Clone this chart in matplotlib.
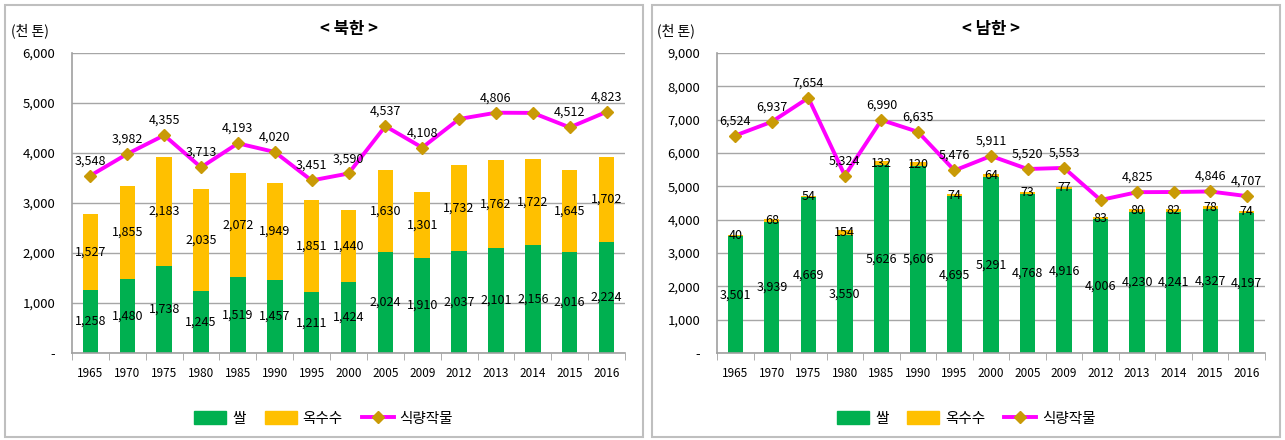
import numpy as np
import matplotlib.pyplot as plt
from matplotlib.patches import Rectangle, Patch
from matplotlib.lines import Line2D
from matplotlib.ticker import FuncFormatter

plt.rcParams['font.family'] = ['Noto Sans CJK KR', 'DejaVu Sans']

years = ["1965", "1970", "1975", "1980", "1985", "1990", "1995", "2000",
         "2005", "2009", "2012", "2013", "2014", "2015", "2016"]

# 북한
nk_rice = [1258, 1480, 1738, 1245, 1519, 1457, 1211, 1424, 2024, 1910, 2037, 2101, 2156, 2016, 2224]
nk_corn = [1527, 1855, 2183, 2035, 2072, 1949, 1851, 1440, 1630, 1301, 1732, 1762, 1722, 1645, 1702]
nk_total = [3548, 3982, 4355, 3713, 4193, 4020, 3451, 3590, 4537, 4108, 4680, 4806, 4802, 4512, 4823]
nk_total_show = [True] * 10 + [False, True, False, True, True]

# 남한
sk_rice = [3501, 3939, 4669, 3550, 5626, 5606, 4695, 5291, 4768, 4916, 4006, 4230, 4241, 4327, 4197]
sk_corn = [40, 68, 54, 154, 132, 120, 74, 64, 73, 77, 83, 80, 82, 78, 74]
sk_total = [6524, 6937, 7654, 5324, 6990, 6635, 5476, 5911, 5520, 5553, 4590, 4825, 4830, 4846, 4707]
sk_total_show = [True] * 10 + [False, True, False, True, True]

GREEN = '#00B050'
YELLOW = '#FFC000'
MAGENTA = '#FF00FF'
GOLD = '#C99A06'


def draw(ax, rice, corn, total, show, ymax, title):
    x = np.arange(len(years))
    rice = np.array(rice)
    corn = np.array(corn)
    ax.bar(x, rice, width=0.42, color=GREEN, zorder=2)
    ax.bar(x, corn, width=0.42, bottom=rice, color=YELLOW, zorder=2)
    ax.plot(x, total, color=MAGENTA, lw=2.8, marker='D', ms=6.5,
            mfc=GOLD, mec=GOLD, zorder=3)
    for i in x:
        ax.text(i, rice[i] / 2, f"{rice[i]:,}", ha='center', va='center',
                fontsize=9, zorder=4)
        ax.text(i, rice[i] + corn[i] / 2, f"{corn[i]:,}", ha='center',
                va='center', fontsize=9, zorder=4)
        if show[i]:
            ax.annotate(f"{total[i]:,}", (i, total[i]), xytext=(0, 6),
                        textcoords='offset points', ha='center', va='bottom',
                        fontsize=9, zorder=4)
    ax.set_xlim(-0.5, len(years) - 0.5)
    ax.set_ylim(0, ymax)
    ax.set_yticks(np.arange(0, ymax + 1, 1000))
    ax.yaxis.set_major_formatter(FuncFormatter(lambda v, p: "-" if v == 0 else f"{int(v):,}"))
    ax.set_xticks(x)
    ax.set_xticklabels(years)
    ax.set_xticks(np.arange(-0.5, len(years)), minor=True)
    ax.tick_params(axis='x', which='major', length=0, labelsize=8.5, pad=10)
    ax.tick_params(axis='x', which='minor', length=5, color='#A0A0A0')
    ax.tick_params(axis='y', length=0, labelsize=9.5, pad=12)
    ax.grid(axis='y', color='#A6A6A6', lw=1, zorder=0)
    for s in ['top', 'right']:
        ax.spines[s].set_visible(False)
    for s in ['left', 'bottom']:
        ax.spines[s].set_color('#A0A0A0')
        ax.spines[s].set_linewidth(1.2)
    ax.text(0.5, 1.05, title, transform=ax.transAxes, ha='center',
            va='bottom', fontsize=12, fontweight='bold')
    ax.text(-0.11, 1.05, "(천 톤)", transform=ax.transAxes, ha='left',
            va='bottom', fontsize=10)
    handles = [Patch(color=GREEN), Patch(color=YELLOW),
               Line2D([], [], color=MAGENTA, lw=2.8, marker='D', ms=6,
                      mfc=GOLD, mec=GOLD)]
    ax.legend(handles, ["쌀", "옥수수", "식량작물"], loc='upper center',
              bbox_to_anchor=(0.455, -0.15), ncol=3, frameon=False,
              fontsize=10.5, handlelength=2.2, handleheight=1.0,
              handletextpad=0.4, columnspacing=1.3)


fig = plt.figure(figsize=(12.85, 4.4), dpi=100)
fig.patches.append(Rectangle((5 / 1285, 3 / 440), 638 / 1285, 432 / 440,
                             transform=fig.transFigure, fill=False,
                             ec='#BFBFBF', lw=1.5))
fig.patches.append(Rectangle((652 / 1285, 3 / 440), 628 / 1285, 432 / 440,
                             transform=fig.transFigure, fill=False,
                             ec='#BFBFBF', lw=1.5))

ax1 = fig.add_axes([72 / 1285, 87 / 440, 553 / 1285, 300 / 440])
ax2 = fig.add_axes([717 / 1285, 87 / 440, 548 / 1285, 300 / 440])
draw(ax1, nk_rice, nk_corn, nk_total, nk_total_show, 6000, "< 북한 >")
draw(ax2, sk_rice, sk_corn, sk_total, sk_total_show, 9000, "< 남한 >")

fig.savefig("out.png", dpi=100)
